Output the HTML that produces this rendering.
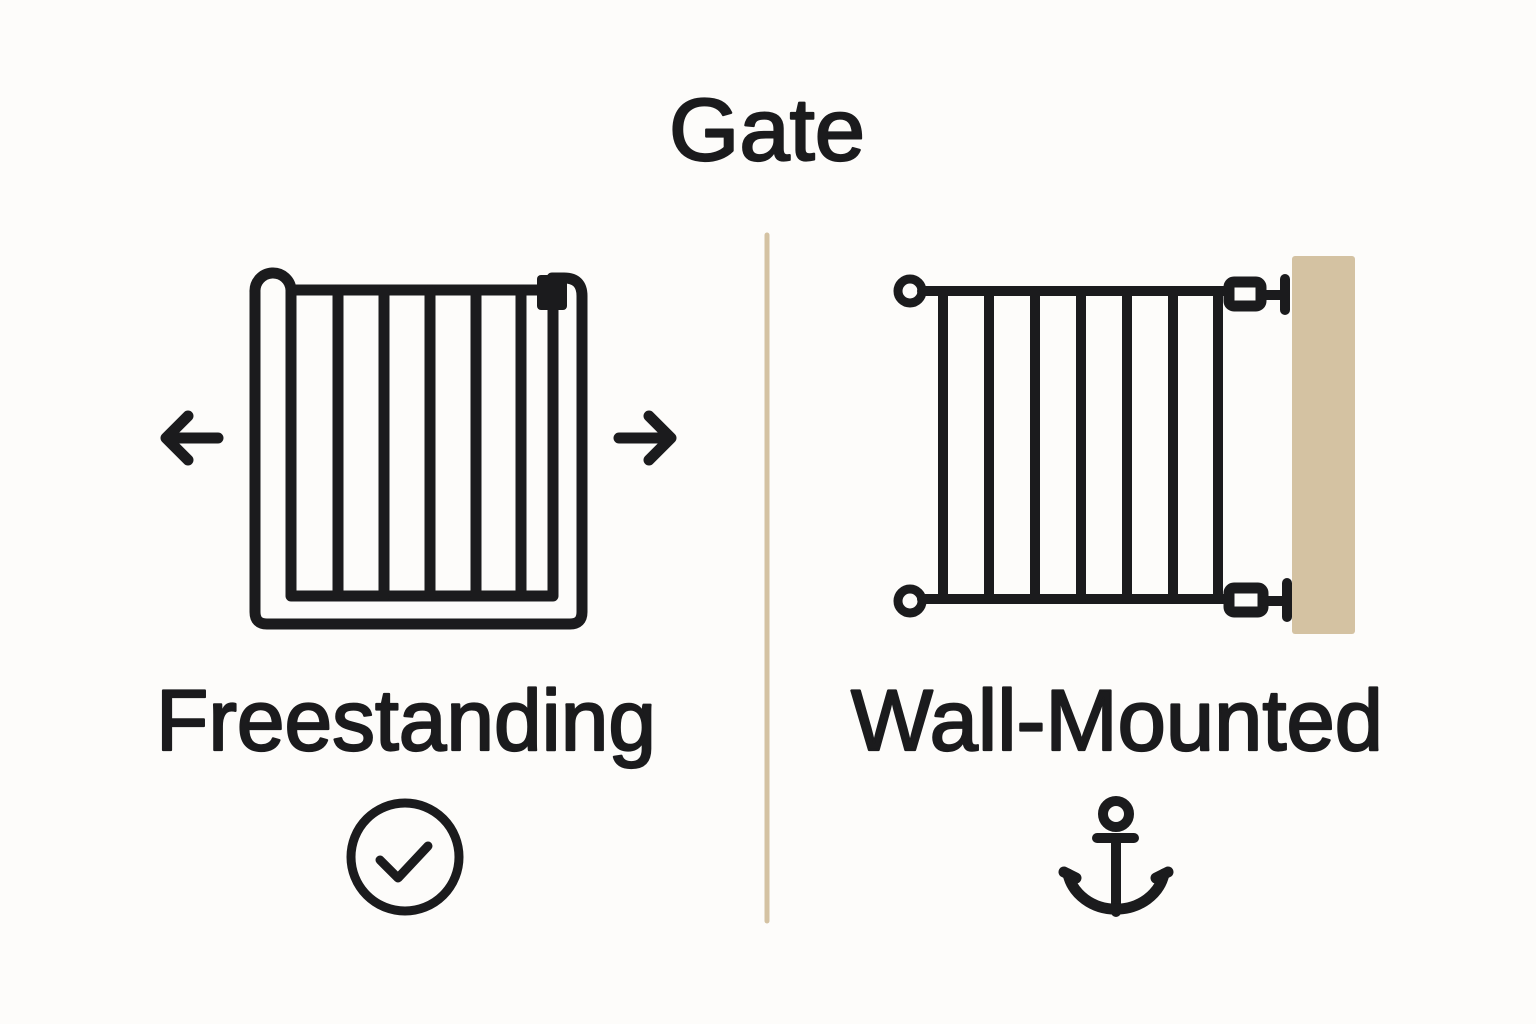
<!DOCTYPE html>
<html><head><meta charset="utf-8"><style>
html,body{margin:0;padding:0;background:#fdfcfa;}
body{width:1536px;height:1024px;position:relative;overflow:hidden;font-family:"Liberation Sans",sans-serif;}
</style></head><body>
<svg width="1536" height="1024" viewBox="0 0 1536 1024" xmlns="http://www.w3.org/2000/svg" style="position:absolute;left:0;top:0">
<rect width="1536" height="1024" fill="#fdfcfa"/>
<g font-family="Liberation Sans, sans-serif" fill="#1b1b1d" stroke="#1b1b1d" stroke-width="2.2" stroke-linejoin="round">
<text x="767" y="160" text-anchor="middle" font-size="88" textLength="196" lengthAdjust="spacingAndGlyphs">Gate</text>
<text x="406" y="750" text-anchor="middle" font-size="86" textLength="500" lengthAdjust="spacingAndGlyphs">Freestanding</text>
<text x="1117" y="750" text-anchor="middle" font-size="86" textLength="532" lengthAdjust="spacingAndGlyphs">Wall-Mounted</text>
</g>
<line x1="767" y1="235" x2="767" y2="921" stroke="#d4c2a2" stroke-width="5" stroke-linecap="round"/>
<g fill="none" stroke="#1b1b1d" stroke-width="11" stroke-linecap="round" stroke-linejoin="round">
  <path d="M291 290 L291 290 A18 18 0 0 0 255 292 L255 612 Q255 624 267 624 L570 624 Q582 624 582 612 L582 296 Q582 278 564 278 L552 278"/>
  <path d="M291 290 L291 596 L553 596 L553 305"/>
  <line x1="291" y1="290" x2="540" y2="290"/>
  <line x1="338" y1="290" x2="338" y2="596"/>
  <line x1="384" y1="290" x2="384" y2="596"/>
  <line x1="430" y1="290" x2="430" y2="596"/>
  <line x1="476" y1="290" x2="476" y2="596"/>
  <line x1="521" y1="290" x2="521" y2="596"/>
  <path d="M218 438 L166 438 M188 416 L166 438 L188 460"/>
  <path d="M619 438 L671 438 M649 416 L671 438 L649 460"/>
  <circle cx="910" cy="291" r="12" stroke-width="9"/>
  <circle cx="910" cy="601" r="12" stroke-width="9"/>
  <g stroke-width="10">
  <line x1="922" y1="291" x2="1228" y2="291"/>
  <line x1="922" y1="599" x2="1228" y2="599"/>
  <line x1="943" y1="291" x2="943" y2="599"/>
  <line x1="989" y1="291" x2="989" y2="599"/>
  <line x1="1035" y1="291" x2="1035" y2="599"/>
  <line x1="1081" y1="291" x2="1081" y2="599"/>
  <line x1="1127" y1="291" x2="1127" y2="599"/>
  <line x1="1173" y1="291" x2="1173" y2="599"/>
  <line x1="1218" y1="291" x2="1218" y2="599"/>
  <rect x="1229" y="282" width="32" height="24" rx="5" stroke-width="11"/>
  <rect x="1229" y="588" width="34" height="24" rx="5" stroke-width="11"/>
  <line x1="1261" y1="295" x2="1284" y2="295"/>
  <line x1="1263" y1="601" x2="1286" y2="601"/>
  <line x1="1285" y1="279" x2="1285" y2="310"/>
  <line x1="1287" y1="583" x2="1287" y2="617"/>
  </g>
  <circle cx="405" cy="857" r="54" stroke-width="9"/>
  <path d="M380 860 L398 878 L428 846" stroke-width="9"/>
  <circle cx="1116" cy="814" r="13" stroke-width="10"/>
  <line x1="1097" y1="838" x2="1134" y2="838" stroke-width="10"/>
  <line x1="1116" y1="838" x2="1116" y2="912" stroke-width="10"/>
  <path d="M1068 874 A49 44 0 0 0 1164 874" stroke-width="11"/>
  <path d="M1064 872 L1076 878 M1168 872 L1156 878" stroke-width="11"/>
</g>
<rect x="537" y="275" width="30" height="35" rx="4" fill="#1b1b1d"/>
<rect x="1292" y="256" width="63" height="378" rx="3" fill="#d4c2a2"/>
</svg>
</body></html>
